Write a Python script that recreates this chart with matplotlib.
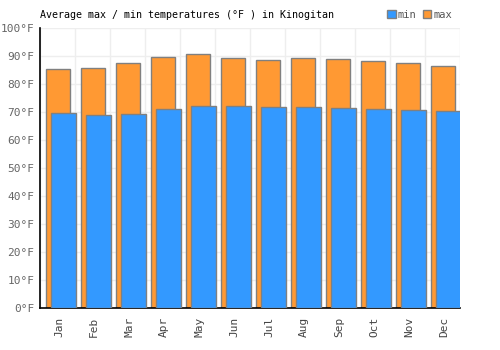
import numpy as np
import matplotlib.pyplot as plt
from matplotlib.patches import Patch

months = ["Jan", "Feb", "Mar", "Apr", "May", "Jun",
          "Jul", "Aug", "Sep", "Oct", "Nov", "Dec"]
t_max = [85.2, 85.6, 87.4, 89.5, 90.6, 89.2, 88.4, 89.2, 88.8, 88.1, 87.4, 86.3]
t_min = [69.5, 68.8, 69.2, 71.0, 72.0, 72.0, 71.7, 71.7, 71.3, 71.0, 70.6, 70.2]
y_ticks = list(range(0, 101, 10))

c_min = "#3399ff"
c_max = "#ff9933"
edge = "#808080"
mono = "DejaVu Sans Mono"

fig = plt.figure(figsize=(5, 3.5), dpi=100)
ax = fig.add_axes([40 / 500, 42 / 350, 420 / 500, 280 / 350])

x = np.arange(len(months))
ax.bar(x + 0.17, t_max, width=0.69, align="edge", color=c_max,
       edgecolor=edge, linewidth=1, zorder=2)
ax.bar(x + 0.315, t_min, width=0.715, align="edge", color=c_min,
       edgecolor=edge, linewidth=1, zorder=3)

ax.set_xlim(0, len(months))
ax.set_ylim(0, 100)
ax.set_yticks(y_ticks)
ax.set_yticklabels([f"{v}°F" for v in y_ticks], fontsize=8, family=mono,
                   color="#666666")
ax.set_xticks(x + 0.55)
ax.set_xticklabels(months, rotation=90, fontsize=8, family=mono,
                   color="#444444")
ax.set_xticks(np.arange(len(months) + 1), minor=True)
ax.tick_params(axis="both", which="both", length=0)
ax.tick_params(axis="y", pad=4)
ax.tick_params(axis="x", pad=6)

ax.grid(True, axis="y", color="#eeeeee", linewidth=1, zorder=0)
ax.grid(True, axis="x", which="minor", color="#eeeeee", linewidth=1, zorder=0)
ax.set_axisbelow(True)

for s in ["top", "right"]:
    ax.spines[s].set_visible(False)
for s in ["left", "bottom"]:
    ax.spines[s].set_color("black")
    ax.spines[s].set_linewidth(1.2)

fig.text(40 / 500, 1 - 15 / 350, "Average max / min temperatures (°F ) in Kinogitan",
         fontsize=7.2, family=mono, va="center", ha="left")

handles = [Patch(facecolor=c_min, edgecolor=edge, label="min"),
           Patch(facecolor=c_max, edgecolor=edge, label="max")]
leg = fig.legend(handles=handles, loc="center right",
                 bbox_to_anchor=(452 / 500, 1 - 15 / 350), ncol=2, frameon=False,
                 prop={"family": mono, "size": 7.5}, handlelength=0.8,
                 handleheight=0.8, handletextpad=0.2, columnspacing=0.6,
                 borderaxespad=0, borderpad=0)
for t in leg.get_texts():
    t.set_color("#555555")

fig.savefig("out.png", dpi=100)
